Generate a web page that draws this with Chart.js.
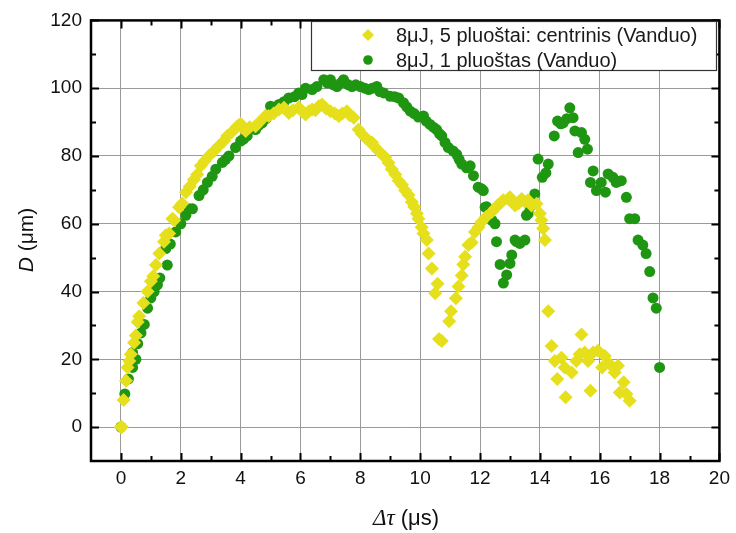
<!DOCTYPE html>
<html>
<head>
<meta charset="utf-8">
<script src="https://cdn.jsdelivr.net/npm/chart.js@4.4.1/dist/chart.umd.min.js"></script>
<style>
  html, body { margin: 0; padding: 0; background: #fff; }
  #wrap { width: 736px; height: 533px; }
</style>
</head>
<body>
<div id="wrap"><canvas id="chart" width="736" height="533"></canvas></div>
<script>
// ----- Data -----
const yellowLabel = "8μJ, 5 pluoštai: centrinis (Vanduo)";
const greenLabel = "8μJ, 1 pluoštas (Vanduo)";

const yellowX = [0, 0.03, 0.09, 0.17, 0.22, 0.28, 0.33, 0.44, 0.5, 0.56, 0.61, 0.75, 0.89, 1.0, 1.08, 1.17, 1.28, 1.44, 1.5, 1.61,
  1.72, 1.78, 1.94, 2.05, 2.17, 2.3, 2.44, 2.55, 2.67, 2.8, 2.94, 3.11, 3.28, 3.45, 3.55, 3.7, 3.89, 4.0, 4.17, 4.3,
  4.5, 4.61, 4.83, 4.94, 5.1, 5.28, 5.45, 5.61, 5.75, 5.94, 6.05, 6.17, 6.28, 6.39, 6.5, 6.61, 6.72, 6.85, 7.0, 7.15,
  7.28, 7.4, 7.55, 7.65, 7.78, 7.94, 8.05, 8.17, 8.28, 8.39, 8.5, 8.61, 8.72, 8.83, 8.94, 9.05, 9.17, 9.28, 9.39, 9.5,
  9.61, 9.72, 9.8, 9.89, 9.94, 10.05, 10.11, 10.22, 10.28, 10.39, 10.5, 10.58, 10.63, 10.72, 10.97, 11.03, 11.19, 11.28, 11.39, 11.44,
  11.5, 11.61, 11.72, 11.83, 11.95, 12.05, 12.2, 12.39, 12.5, 12.6, 12.72, 12.78, 12.94, 13.0, 13.17, 13.28, 13.39, 13.5, 13.61, 13.72,
  13.89, 14.0, 14.05, 14.11, 14.17, 14.28, 14.39, 14.5, 14.58, 14.72, 14.83, 14.86, 15.06, 15.22, 15.33, 15.39, 15.5, 15.61, 15.69, 15.78,
  15.94, 16.08, 16.17, 16.33, 16.5, 16.61, 16.67, 16.8, 16.89, 17.0];
const yellowY = [0, 0, 8, 13.7, 17.6, 19.5, 21.5, 24.9, 27, 31, 32.7, 36.6, 40, 43, 44.5, 47.8, 51.2, 54.7, 56.6, 57.1,
  61.5, 61, 64.9, 66, 69.3, 71, 73, 74.5, 77.1, 78.5, 80, 81.5, 83, 84.5, 85.9, 87, 88.8, 89.5, 87.4, 88.5,
  88.8, 89.8, 91.8, 91.8, 92.5, 93.7, 94.2, 92.7, 93.5, 94.3, 93.2, 92.2, 93.2, 93.7, 93.5, 94.7, 95.2, 94, 93.2, 92.5,
  91.8, 92.5, 93.2, 92, 91.3, 87.8, 86.5, 85.4, 84.5, 84, 82.5, 81.5, 80.5, 79.6, 78, 76.1, 74.5, 72.7, 71.5, 69.8,
  68.5, 66.4, 65, 63, 61.5, 59, 57.1, 55.2, 51.2, 46.8, 39.5, 42.3, 26, 25.4, 31.2, 34.2, 38, 41.5, 44.7, 48,
  50.3, 53.7, 54.5, 57.6, 59, 60.5, 62, 63.5, 64.5, 65.5, 66.4, 66.9, 67.3, 67.8, 65.4, 66, 67.3, 66.5, 66.9, 65.4,
  65.9, 63, 61, 58.6, 55.2, 34.2, 23.9, 19.5, 14.2, 20.5, 17.6, 8.8, 16.1, 19.5, 21.5, 27.3, 22, 19.5, 10.7, 22,
  22.5, 17.6, 21, 18.6, 16.1, 18.1, 10.2, 13.2, 9.8, 7.8];

const greenX = [0, 0.13, 0.25, 0.39, 0.39, 0.5, 0.56, 0.67, 0.78, 0.89, 1.0, 1.11, 1.22, 1.3, 1.55, 1.5, 1.65, 1.83, 2.0, 2.17,
  2.28, 2.39, 2.61, 2.75, 2.89, 3.05, 3.17, 3.39, 3.5, 3.61, 3.83, 4.0, 4.1, 4.22, 4.5, 4.6, 4.72, 4.85, 5.0, 5.15,
  5.28, 5.45, 5.61, 5.8, 5.94, 6.05, 6.17, 6.39, 6.55, 6.78, 6.9, 7.0, 7.1, 7.22, 7.35, 7.44, 7.6, 7.72, 7.85, 8.0,
  8.15, 8.28, 8.4, 8.55, 8.65, 8.78, 9.0, 9.15, 9.28, 9.44, 9.55, 9.67, 9.8, 9.94, 10.11, 10.2, 10.33, 10.44, 10.55, 10.65,
  10.72, 10.83, 10.94, 11.1, 11.22, 11.3, 11.39, 11.55, 11.67, 11.78, 11.94, 12.05, 12.11, 12.17, 12.22, 12.4, 12.5, 12.55, 12.67, 12.78,
  12.89, 13.0, 13.06, 13.17, 13.22, 13.33, 13.5, 13.55, 13.61, 13.67, 13.83, 13.94, 14.08, 14.2, 14.28, 14.48, 14.59, 14.7, 14.78, 14.9,
  15.0, 15.11, 15.17, 15.28, 15.39, 15.5, 15.59, 15.69, 15.78, 15.89, 16.05, 16.19, 16.28, 16.44, 16.55, 16.62, 16.72, 16.89, 17.0, 17.17,
  17.28, 17.44, 17.55, 17.67, 17.78, 17.89, 18.0];
const greenY = [0, 9.8, 14.2, 17.6, 22, 20, 24.6, 27.8, 30.3, 35.1, 38.1, 40, 42, 44, 47.8, 52.7, 54, 57.6, 60, 62.5,
  64.4, 64.4, 68.3, 70, 72.2, 74, 76.1, 78.1, 79, 80, 82.5, 84.4, 85, 85.9, 87.8, 89, 89.8, 91, 94.7, 94,
  95.2, 96, 97.1, 97.5, 98.6, 98.1, 100, 99.6, 100.5, 102.5, 101.5, 102.5, 101, 100.5, 101.5, 102.5, 101, 100.5, 101, 100.5,
  100, 99.6, 100, 100.5, 99, 98.6, 97.6, 97.5, 97.1, 95.7, 94.5, 93.2, 92.5, 91.5, 91.8, 90.3, 89.3, 88.5, 87.8, 86.5,
  85.9, 84, 82.5, 81.5, 80.5, 79, 77.6, 76.5, 77.1, 74.2, 70.8, 70.3, 69.8, 64.9, 65, 61, 60, 54.7, 48, 42.5,
  44.9, 48.3, 50.8, 55.2, 54.7, 54.2, 55.2, 62.5, 63, 64.9, 68.8, 79.1, 73.7, 75, 77.6, 85.9, 90.3, 89.5, 89.8, 91,
  94.2, 91.3, 87.4, 81, 86.9, 84.9, 82, 72.2, 75.6, 69.8, 72.2, 69.3, 74.7, 73.7, 72.2, 72.5, 72.7, 67.8, 61.5, 61.5,
  55.2, 53.7, 51.2, 45.9, 38.1, 35.1, 17.6];

const xTicks = [0, 2, 4, 6, 8, 10, 12, 14, 16, 18, 20];
const yTicks = [0, 20, 40, 60, 80, 100, 120];

// ----- Styling -----
const YELLOW = "#e6df1c";
const GREEN = "#1f9612";
const FONT = "'Liberation Sans', Arial, sans-serif";
const SERIF = "'Liberation Serif', 'Times New Roman', serif";

const zip = (xs, ys) => xs.map((x, i) => ({ x, y: ys[i] }));

// Frame with inward major/minor ticks on all four sides
const framePlugin = {
  id: "frame",
  afterDatasetsDraw(chart) {
    const { ctx, chartArea: a, scales } = chart;
    const xs = scales.x, ys = scales.y;
    ctx.save();
    ctx.strokeStyle = "#000";
    ctx.lineWidth = 2;
    for (let v = 0; v <= 20; v++) {
      const len = v % 2 === 0 ? 8 : 5;
      const px = Math.round(xs.getPixelForValue(v)) + 0.5;
      ctx.beginPath();
      ctx.moveTo(px, a.bottom); ctx.lineTo(px, a.bottom - len);
      ctx.moveTo(px, a.top); ctx.lineTo(px, a.top + len);
      ctx.stroke();
    }
    for (let v = 0; v <= 120; v += 10) {
      const len = v % 20 === 0 ? 8 : 5;
      const py = Math.round(ys.getPixelForValue(v)) + 0.5;
      ctx.beginPath();
      ctx.moveTo(a.left, py); ctx.lineTo(a.left + len, py);
      ctx.moveTo(a.right, py); ctx.lineTo(a.right - len, py);
      ctx.stroke();
    }
    ctx.lineWidth = 2.5;
    ctx.strokeRect(a.left, a.top, a.right - a.left, a.bottom - a.top);
    ctx.restore();
  },
};

// Legend box in the upper right corner of the plot
const legendPlugin = {
  id: "boxLegend",
  afterDatasetsDraw(chart) {
    const { ctx } = chart;
    const left = 311, top = 21, right = 716, bottom = 70;
    ctx.save();
    ctx.fillStyle = "#fff";
    ctx.fillRect(left, top, right - left, bottom - top);
    ctx.strokeStyle = "#333";
    ctx.lineWidth = 1.2;
    ctx.strokeRect(left + 0.5, top + 0.5, right - left, bottom - top);

    // diamond
    ctx.fillStyle = YELLOW;
    ctx.beginPath();
    ctx.moveTo(368, 29); ctx.lineTo(374, 35); ctx.lineTo(368, 41); ctx.lineTo(362, 35);
    ctx.closePath(); ctx.fill();
    // circle
    ctx.fillStyle = GREEN;
    ctx.beginPath(); ctx.arc(368, 60, 4.8, 0, Math.PI * 2); ctx.fill();

    ctx.fillStyle = "#1a1a1a";
    ctx.font = "20px " + FONT;
    ctx.textBaseline = "middle";
    ctx.textAlign = "left";
    ctx.fillText(yellowLabel, 396, 36);
    ctx.fillText(greenLabel, 396, 61);
    ctx.restore();
  },
};

// Axis titles with italic symbols
const titlePlugin = {
  id: "axisTitles",
  afterDraw(chart) {
    const { ctx } = chart;
    ctx.save();
    ctx.fillStyle = "#111";
    ctx.textBaseline = "middle";

    const drawParts = (parts, cx, cy) => {
      let total = 0;
      parts.forEach((p) => { ctx.font = p.font; total += ctx.measureText(p.t).width; });
      let x = cx - total / 2;
      ctx.textAlign = "left";
      parts.forEach((p) => {
        ctx.font = p.font;
        ctx.fillText(p.t, x, cy);
        x += ctx.measureText(p.t).width;
      });
    };

    drawParts([
      { t: "Δτ", font: "italic 23px " + SERIF },
      { t: " (μs)", font: "22px " + FONT },
    ], 406, 519);

    ctx.translate(27, 240);
    ctx.rotate(-Math.PI / 2);
    drawParts([
      { t: "D", font: "italic 21px " + FONT },
      { t: " (μm)", font: "21px " + FONT },
    ], 0, 0);
    ctx.restore();
  },
};

new Chart(document.getElementById("chart"), {
  type: "scatter",
  data: {
    datasets: [
      {
        label: yellowLabel,
        data: zip(yellowX, yellowY),
        pointStyle: "rectRot",
        pointRadius: 7,
        pointBorderWidth: 0,
        backgroundColor: YELLOW,
        borderColor: YELLOW,
      },
      {
        label: greenLabel,
        data: zip(greenX, greenY),
        pointStyle: "circle",
        pointRadius: 5.5,
        pointBorderWidth: 0,
        backgroundColor: GREEN,
        borderColor: GREEN,
      },
    ],
  },
  options: {
    responsive: false,
    animation: false,
    layout: { padding: { left: 0, top: 17, right: 15, bottom: 0 } },
    plugins: {
      legend: { display: false },
      tooltip: { enabled: false },
    },
    scales: {
      x: {
        type: "linear",
        min: -1,
        max: 20,
        afterBuildTicks: (s) => { s.ticks = xTicks.map((v) => ({ value: v })); },
        afterFit: (s) => { s.height = 72; },
        grid: { color: "#9a9a9a", lineWidth: 1, drawTicks: false },
        border: { display: false },
        ticks: { color: "#111", padding: 6, font: { size: 19, family: FONT }, maxRotation: 0 },
      },
      y: {
        type: "linear",
        min: -10,
        max: 120,
        afterBuildTicks: (s) => { s.ticks = yTicks.map((v) => ({ value: v })); },
        afterFit: (s) => { s.width = 91; },
        grid: { color: "#9a9a9a", lineWidth: 1, drawTicks: false },
        border: { display: false },
        ticks: { color: "#111", padding: 9, font: { size: 19, family: FONT } },
      },
    },
  },
  plugins: [framePlugin, legendPlugin, titlePlugin],
});
</script>
</body>
</html>
